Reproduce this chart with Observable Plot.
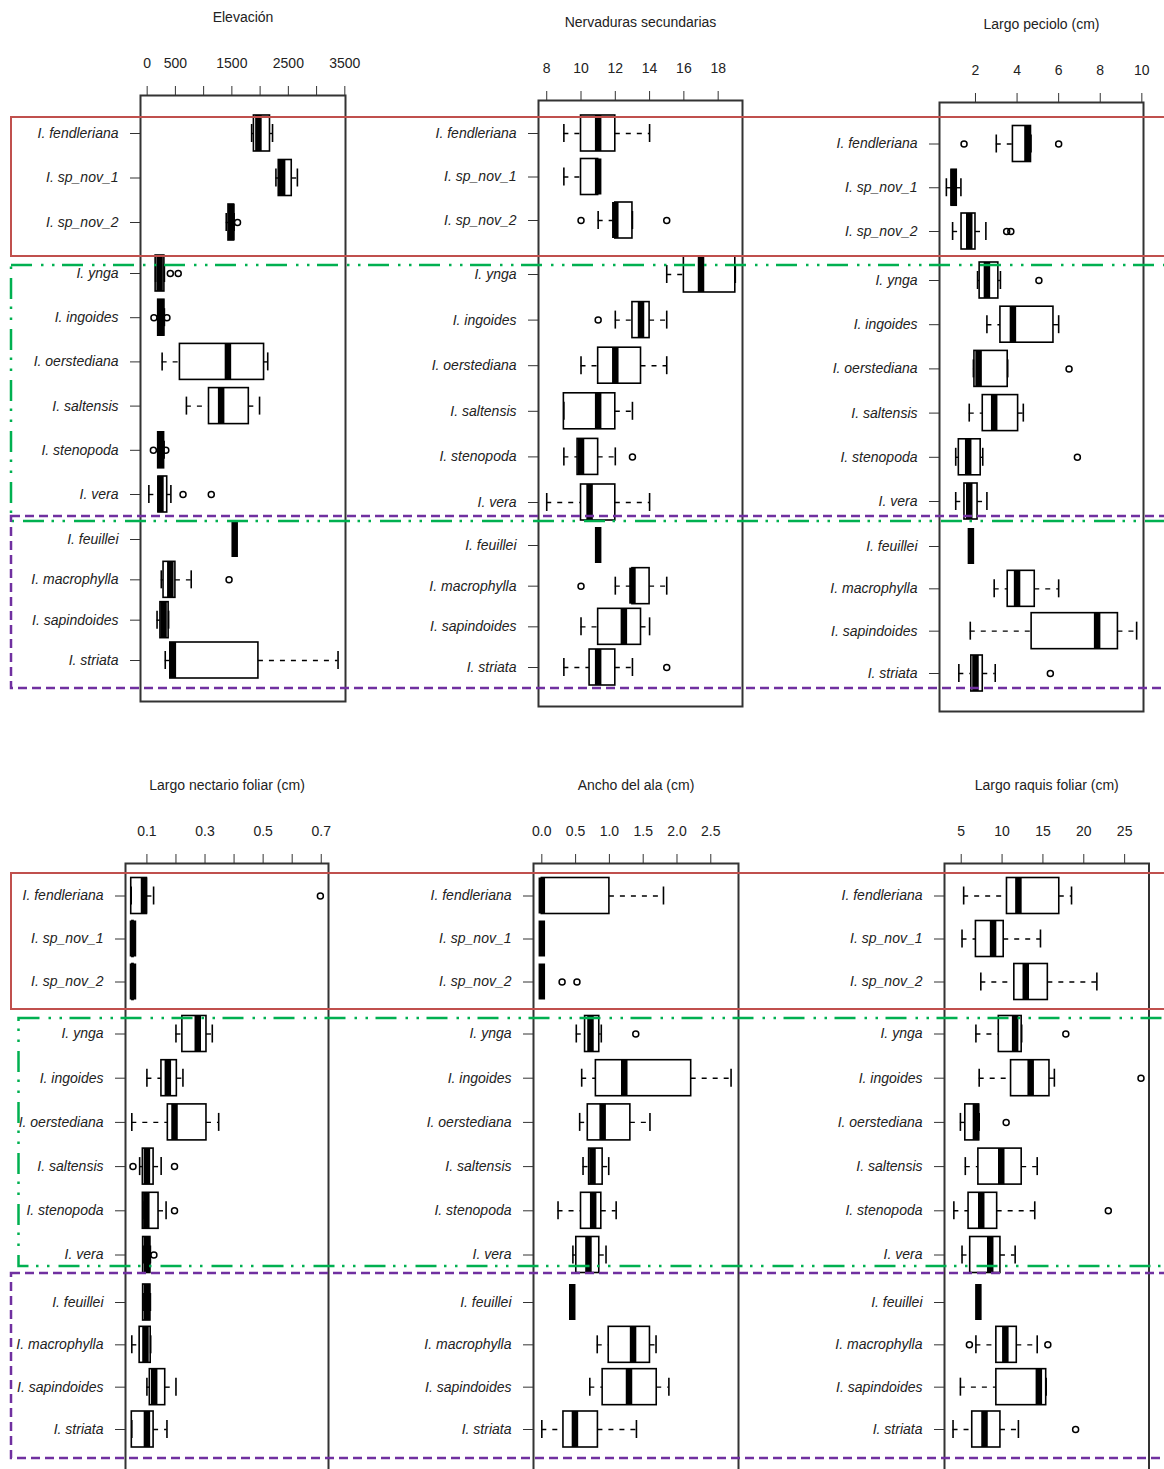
<!DOCTYPE html>
<html>
<head>
<meta charset="utf-8">
<script src="https://cdn.jsdelivr.net/npm/d3@7"></script>
<script src="https://cdn.jsdelivr.net/npm/@observablehq/plot@0.6"></script>
<style>
  html, body { margin: 0; padding: 0; background: #fff; }
  #chart { position: relative; width: 1164px; height: 1469px; overflow: hidden; background: #fff;
           font-family: "Liberation Sans", Arial, sans-serif; }
  #chart svg { position: absolute; }
</style>
</head>
<body>
<div id="chart"></div>
<script>
// Species, top to bottom
const species = [
  "I. fendleriana", "I. sp_nov_1", "I. sp_nov_2",
  "I. ynga", "I. ingoides", "I. oerstediana", "I. saltensis", "I. stenopoda", "I. vera",
  "I. feuillei", "I. macrophylla", "I. sapindoides", "I. striata"
];
// Species groups outlined across each row of panels
const groupSizes = [3, 6, 4];

// Five-number summaries per species: [lower whisker, Q1, median, Q3, upper whisker]
const elevacion = [
  [1850, 1890, 1970, 2175, 2220], [2280, 2330, 2390, 2560, 2660], [1400, 1440, 1490, 1540, 1540],
  [150, 150, 220, 305, 305], [190, 195, 245, 305, 305], [265, 580, 1430, 2070, 2135],
  [695, 1095, 1310, 1800, 1990], [190, 195, 240, 300, 300], [30, 200, 235, 355, 420],
  [1550, 1550, 1550, 1550, 1550], [250, 290, 410, 500, 780], [175, 235, 290, 380, 380],
  [320, 410, 455, 1970, 3380]
];
const elevacionOut = [[], [], [1600], [410, 550], [120, 350], [], [], [110, 330], [635, 1135], [], [1450], [], []];
const elevacionTicks = [0, 500, 1000, 1500, 2000, 2500, 3000, 3500];
const elevacionTickLabels = ["0", "500", "", "1500", "", "2500", "", "3500"];

const nervaduras = [
  [9, 10, 11, 12, 14], [9, 10, 11, 11, 11], [11, 12, 12, 13, 13],
  [15, 16, 17, 19, 19], [12, 13, 13.5, 14, 15], [10, 11, 12, 13.5, 15],
  [9, 9, 11, 12, 13], [9, 9.8, 10, 11, 12], [8, 10, 10.5, 12, 14],
  [11, 11, 11, 11, 11], [12, 13, 13, 14, 15], [10, 11, 12.5, 13.5, 14],
  [9, 10.5, 11, 12, 13]
];
const nervadurasOut = [[], [], [10, 15], [], [11], [], [], [13], [], [], [10], [], [15]];
const nervadurasTicks = [8, 10, 12, 14, 16, 18];
const nervadurasTickLabels = ["8", "10", "12", "14", "16", "18"];

const peciolo = [
  [3, 3.8, 4.5, 4.67, 4.67], [0.6, 0.85, 0.95, 1.1, 1.3], [0.9, 1.33, 1.7, 2.0, 2.5],
  [2.1, 2.2, 2.55, 3.1, 3.2], [2.55, 3.2, 3.8, 5.75, 6], [1.9, 1.95, 2.15, 3.55, 3.55],
  [1.7, 2.35, 2.9, 4.05, 4.3], [1.05, 1.2, 1.65, 2.25, 2.35], [1.05, 1.47, 1.7, 2.1, 2.55],
  [1.78, 1.78, 1.78, 1.78, 1.78], [2.9, 3.55, 4, 4.85, 6], [1.75, 4.7, 7.85, 8.85, 9.75],
  [1.2, 1.8, 2.0, 2.35, 2.95]
];
const pecioloOut = [[1.45, 6], [], [3.5, 3.7], [5.05], [], [6.5], [], [6.9], [], [], [], [], [5.6]];
const pecioloTicks = [2, 4, 6, 8, 10];
const pecioloTickLabels = ["2", "4", "6", "8", "10"];

const nectario = [
  [0.046, 0.046, 0.09, 0.1, 0.123], [0.05, 0.05, 0.052, 0.054, 0.054], [0.05, 0.05, 0.052, 0.054, 0.054],
  [0.2, 0.222, 0.275, 0.305, 0.325], [0.1, 0.15, 0.172, 0.203, 0.224], [0.048, 0.172, 0.195, 0.305, 0.347],
  [0.075, 0.086, 0.1, 0.123, 0.149], [0.086, 0.086, 0.098, 0.14, 0.166], [0.087, 0.087, 0.1, 0.112, 0.112],
  [0.087, 0.087, 0.1, 0.112, 0.112], [0.048, 0.075, 0.095, 0.113, 0.113], [0.1, 0.11, 0.125, 0.163, 0.2],
  [0.048, 0.048, 0.1, 0.123, 0.169]
];
const nectarioOut = [[0.697], [], [], [], [], [], [0.052, 0.195], [0.195], [0.124], [], [], [], []];
const nectarioTicks = [0.1, 0.2, 0.3, 0.4, 0.5, 0.6, 0.7];
const nectarioTickLabels = ["0.1", "", "0.3", "", "0.5", "", "0.7"];

const ala = [
  [0, 0, 0, 1.0, 1.8], [0, 0, 0, 0, 0], [0, 0, 0, 0, 0],
  [0.51, 0.64, 0.72, 0.85, 0.88], [0.59, 0.8, 1.22, 2.21, 2.8], [0.56, 0.68, 0.9, 1.31, 1.6],
  [0.61, 0.7, 0.75, 0.9, 0.99], [0.24, 0.58, 0.76, 0.88, 1.1], [0.46, 0.51, 0.69, 0.85, 0.95],
  [0.45, 0.45, 0.45, 0.45, 0.45], [0.82, 0.99, 1.35, 1.6, 1.69], [0.71, 0.9, 1.29, 1.7, 1.88],
  [0, 0.32, 0.49, 0.83, 1.4]
];
const alaOut = [[], [], [0.3, 0.52], [1.39], [], [], [], [], [], [], [], [], []];
const alaTicks = [0, 0.5, 1, 1.5, 2, 2.5];
const alaTickLabels = ["0.0", "0.5", "1.0", "1.5", "2.0", "2.5"];

const raquis = [
  [5.3, 10.6, 12, 17, 18.5], [5.1, 6.8, 8.9, 10.2, 14.7], [7.4, 11.5, 12.9, 15.6, 21.6],
  [6.8, 9.6, 11.6, 12.4, 12.4], [7.2, 11.1, 13.5, 15.8, 16.4], [4.9, 5.5, 6.8, 7.2, 7.2],
  [5.5, 7.1, 9.9, 12.4, 14.3], [4.1, 5.9, 7.45, 9.4, 14], [5.1, 6.1, 8.55, 9.8, 11.6],
  [7.1, 7.1, 7.1, 7.1, 7.1], [6.8, 9.3, 10.4, 11.8, 14.3], [4.9, 9.3, 14.5, 15.4, 15.4],
  [4, 6.35, 7.85, 9.8, 12]
];
const raquisOut = [[], [], [], [17.8], [27], [10.5], [], [23], [], [], [6, 15.6], [], [19]];
const raquisTicks = [5, 10, 15, 20, 25];
const raquisTickLabels = ["5", "10", "15", "20", "25"];

// Panel layout: frame edges in page pixels, pixel rows of the first and last species of each group
const panels = [
  {title: "Elevación", stats: elevacion, out: elevacionOut, ticks: elevacionTicks, labels: elevacionTickLabels,
   domain: [-118, 3512], frame: {left: 140, right: 345, top: 95, bottom: 701},
   rowPx: [133, 222, 273, 494, 539, 660], titleY: 17, svgTop: 0},
  {title: "Nervaduras secundarias", stats: nervaduras, out: nervadurasOut, ticks: nervadurasTicks, labels: nervadurasTickLabels,
   domain: [7.52, 19.42], frame: {left: 538, right: 742, top: 100, bottom: 706},
   rowPx: [133, 220, 274, 502, 545, 667], titleY: 22, svgTop: 0},
  {title: "Largo peciolo (cm)", stats: peciolo, out: pecioloOut, ticks: pecioloTicks, labels: pecioloTickLabels,
   domain: [0.27, 10.08], frame: {left: 939, right: 1143, top: 102, bottom: 711},
   rowPx: [143.5, 231, 280, 501, 546, 673], titleY: 24, svgTop: 0},
  {title: "Largo nectario foliar (cm)", stats: nectario, out: nectarioOut, ticks: nectarioTicks, labels: nectarioTickLabels,
   domain: [0.0263, 0.725], frame: {left: 124.5, right: 327.5, top: 863, bottom: 1474},
   rowPx: [895.5, 981.5, 1033.5, 1254.5, 1302, 1429], titleY: 785, svgTop: 740},
  {title: "Ancho del ala (cm)", stats: ala, out: alaOut, ticks: alaTicks, labels: alaTickLabels,
   domain: [-0.123, 2.91], frame: {left: 533, right: 738, top: 863, bottom: 1474},
   rowPx: [895.5, 981.5, 1033.5, 1254.5, 1302, 1429], titleY: 785, svgTop: 740},
  {title: "Largo raquis foliar (cm)", stats: raquis, out: raquisOut, ticks: raquisTicks, labels: raquisTickLabels,
   domain: [2.955, 27.98], frame: {left: 943.5, right: 1148, top: 863, bottom: 1474},
   rowPx: [895.5, 981.5, 1033.5, 1254.5, 1302, 1429], titleY: 785, svgTop: 740}
];

// Slot index of the first and last species in each group (domain of the piecewise y scale)
const groupEnds = [];
groupSizes.reduce((start, n) => { groupEnds.push(start, start + n - 1); return start + n; }, 0);
const slots = species.map((_, i) => i);

const font = '"Liberation Sans", Arial, sans-serif';
const container = document.getElementById("chart");

function drawPanel(p) {
  const mL = 140, mR = 12, mB = 12;
  const top = p.svgTop;
  const width = mL + (p.frame.right - p.frame.left) + mR;
  const height = p.frame.bottom - top + mB;
  const half = 18;                      // half box height in pixels
  const rows = species.map((s, i) => {
    const [low, q1, med, q3, high] = p.stats[i];
    return {species: s, slot: i, low, q1, med, q3, high};
  });
  const outs = species.flatMap((s, i) => p.out[i].map((v) => ({species: s, slot: i, value: v})));
  const tickLab = new Map(p.ticks.map((t, i) => [t, p.labels[i]]));
  const stroke = {stroke: "#000", strokeWidth: 1.6};

  const chart = Plot.plot({
    width, height,
    marginLeft: mL, marginRight: mR, marginTop: p.frame.top - top, marginBottom: mB,
    style: {fontFamily: font, fontSize: "14px", color: "#222", background: "transparent", overflow: "visible"},
    x: {domain: p.domain, label: null},
    y: {type: "linear", domain: groupEnds, range: p.rowPx.map((v) => v - top), label: null},
    marks: [
      // dashed whiskers
      Plot.ruleY(rows, {y: "slot", x1: "low", x2: "q1", stroke: "#000", strokeWidth: 1.4, strokeDasharray: "5,6"}),
      Plot.ruleY(rows, {y: "slot", x1: "q3", x2: "high", stroke: "#000", strokeWidth: 1.4, strokeDasharray: "5,6"}),
      // interquartile boxes
      Plot.rect(rows, {x1: "q1", x2: "q3", y1: "slot", y2: "slot", insetTop: -half, insetBottom: -half,
                       fill: "#fff", ...stroke}),
      // whisker staples
      Plot.ruleX(rows, {x: "low", y1: "slot", y2: "slot", insetTop: -half / 2, insetBottom: -half / 2, ...stroke}),
      Plot.ruleX(rows, {x: "high", y1: "slot", y2: "slot", insetTop: -half / 2, insetBottom: -half / 2, ...stroke}),
      // medians
      Plot.ruleX(rows, {x: "med", y1: "slot", y2: "slot", insetTop: -half, insetBottom: -half,
                        stroke: "#000", strokeWidth: 6.5}),
      // outliers
      Plot.dot(outs, {x: "value", y: "slot", r: 3, stroke: "#000", strokeWidth: 1.5, fill: "none"}),
      Plot.frame({stroke: "#333", strokeWidth: 2}),
      Plot.axisX({anchor: "top", ticks: p.ticks, tickFormat: (d) => tickLab.get(d) ?? "",
                  tickSize: 10, tickPadding: 18, label: null, stroke: "#333", fontSize: 14}),
      Plot.axisY({anchor: "left", ticks: slots, tickFormat: (i) => species[i], tickSize: 10, tickPadding: 12,
                  label: null, stroke: "#333", fontStyle: "italic", fontSize: 14}),
      Plot.text([p.title], {frameAnchor: "top", dy: p.titleY - 5 - p.frame.top, fontSize: 14, fill: "#222"})
    ]
  });
  chart.style.left = (p.frame.left - mL) + "px";
  chart.style.top = top + "px";
  container.appendChild(chart);
}

panels.forEach(drawPanel);

// Group outlines across each row of panels
const groupBoxes = [
  {x: 11, y: 117, y2: 256, color: "#C0504D", dash: null},
  {x: 11, y: 265, y2: 521, color: "#00B050", dash: "21,9,2.5,8.5,2.5,7.5"},
  {x: 11, y: 516, y2: 688, color: "#7030A0", dash: "9,5"},
  {x: 11, y: 873, y2: 1009, color: "#C0504D", dash: null},
  {x: 18.5, y: 1018, y2: 1266, color: "#00B050", dash: "21,9,2.5,8.5,2.5,7.5"},
  {x: 11, y: 1273, y2: 1458, color: "#7030A0", dash: "9,5"}
];
const overlay = d3.select(container).append("svg")
  .attr("width", 1164).attr("height", 1469)
  .style("left", "0px").style("top", "0px").style("pointer-events", "none");
overlay.selectAll("rect").data(groupBoxes).join("rect")
  .attr("x", (d) => d.x).attr("y", (d) => d.y)
  .attr("width", (d) => 1200 - d.x).attr("height", (d) => d.y2 - d.y)
  .attr("fill", "none").attr("stroke", (d) => d.color)
  .attr("stroke-width", (d) => d.dash ? 2.5 : 2)
  .attr("stroke-dasharray", (d) => d.dash);
</script>
</body>
</html>
